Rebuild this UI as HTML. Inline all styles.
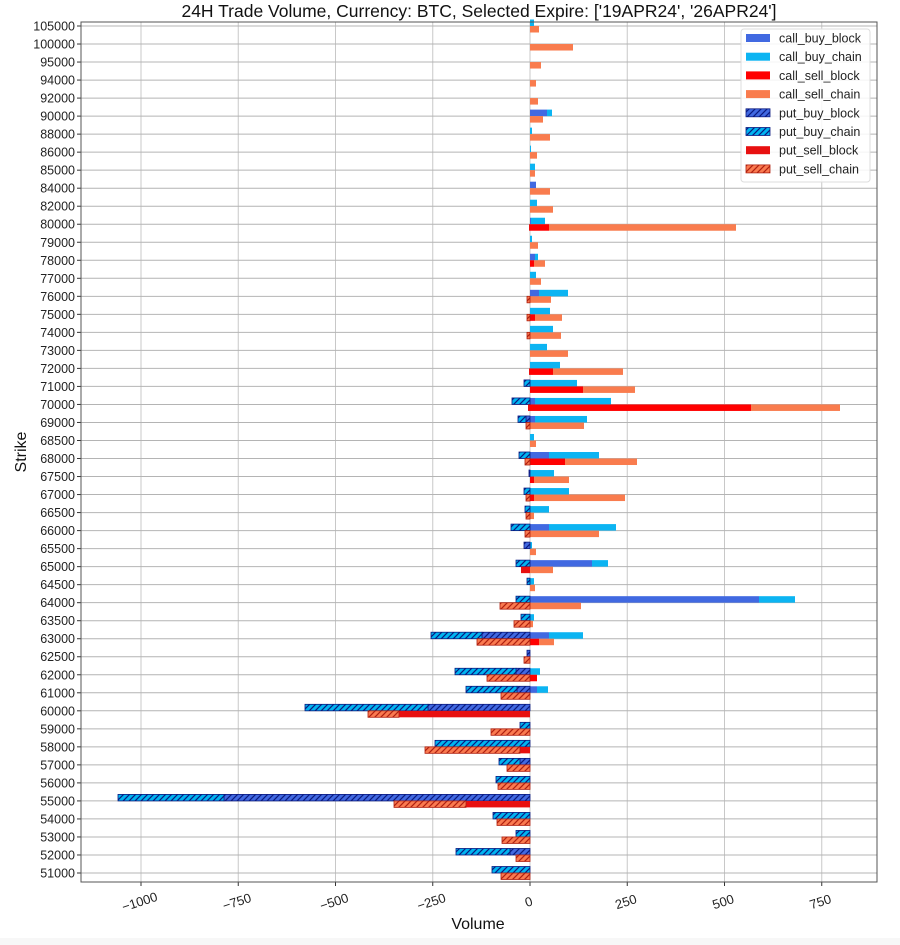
<!DOCTYPE html>
<html><head><meta charset="utf-8"><style>
html,body{margin:0;padding:0;background:#fff;}
svg{display:block;font-family:"Liberation Sans","DejaVu Sans",sans-serif;}
</style></head><body>
<svg id="s" width="900" height="945" xmlns="http://www.w3.org/2000/svg">
<defs>
<pattern id="hb" patternUnits="userSpaceOnUse" width="6" height="6"><rect width="6" height="6" fill="#4169e1"/><path d="M-1,7 L7,-1 M-4,4 L4,-4 M2,10 L10,2" stroke="#0a1a80" stroke-width="1.2"/></pattern>
<pattern id="hc" patternUnits="userSpaceOnUse" width="6" height="6"><rect width="6" height="6" fill="#00b4f0"/><path d="M-1,7 L7,-1 M-4,4 L4,-4 M2,10 L10,2" stroke="#0a1a80" stroke-width="1.2"/></pattern>
<pattern id="hs" patternUnits="userSpaceOnUse" width="6" height="6"><rect width="6" height="6" fill="#fa7a50"/><path d="M-1,7 L7,-1 M-4,4 L4,-4 M2,10 L10,2" stroke="#b02010" stroke-width="1.2"/></pattern>
</defs>
<rect x="0" y="938" width="900" height="7" fill="#f7f7f7"/>
<g id="g"></g>
</svg>
<script>
const s=document.getElementById('g');
let h='';
const L=81,R=877,T=22,B=882,Z=530,K=0.389;
h+=`<text x="479" y="17" font-size="17.5" text-anchor="middle" fill="#111">24H Trade Volume, Currency: BTC, Selected Expire: ['19APR24', '26APR24']</text>`;
[-1000,-750,-500,-250,0,250,500,750].forEach(v=>{const x=Z+v*K;
h+=`<line x1="${x}" y1="${T}" x2="${x}" y2="${B}" stroke="#c8c8c8" stroke-width="1"/>`;
h+=`<line x1="${x}" y1="${B}" x2="${x}" y2="${B+4}" stroke="#333"/>`;
h+=`<text transform="translate(${x},${B+24}) rotate(-18)" font-size="13" text-anchor="middle" fill="#222">${v<0?'\u2212'+(-v):v}</text>`;});
const D=[
[105000,530,534,530,539,530,530,530,530],
[100000,530,530,530,573,530,530,530,530],
[95000,530,530,530,541,530,530,530,530],
[94000,530,530,530,536,530,530,530,530],
[92000,530,530,530,538,530,530,530,530],
[90000,547,552,530,543,530,530,530,530],
[88000,530,532,530,550,530,530,530,530],
[86000,530,531,530,537,530,530,530,530],
[85000,530,535,530,535,530,530,530,530],
[84000,536,536,530,550,530,530,530,530],
[82000,530,537,530,553,530,530,530,530],
[80000,531,545,549,736,530,530,529,529],
[79000,530,532,530,538,530,530,530,530],
[78000,535,538,534,545,530,530,530,530],
[77000,530,536,530,541,530,530,530,530],
[76000,539,568,530,551,530,530,530,527],
[75000,530,550,535,562,530,530,530,527],
[74000,530,553,530,561,530,530,530,527],
[73000,530,547,530,568,530,530,530,530],
[72000,530,560,553,623,530,530,529,529],
[71000,530,577,583,635,530,524,530,530],
[70000,535,611,751,840,530,512,528,528],
[69000,535,587,530,584,526,518,530,526],
[68500,530,534,530,536,530,530,530,530],
[68000,549,599,565,637,530,519,530,525],
[67500,530,554,534,569,529,529,530,530],
[67000,530,569,534,625,530,524,530,526],
[66500,530,549,530,534,530,525,530,526],
[66000,549,616,530,599,530,511,530,525],
[65500,530,532,530,536,524,524,530,530],
[65000,592,608,530,553,530,516,521,521],
[64500,530,534,530,535,530,527,530,530],
[64000,759,795,530,581,530,516,530,500],
[63500,530,534,530,533,530,521,530,514],
[63000,549,583,539,554,482,431,530,477],
[62500,530,530,530,530,527,527,530,524],
[62000,530,540,537,537,516,455,530,487],
[61000,537,548,530,530,517,466,530,501],
[60000,530,530,530,530,428,305,399,368],
[59000,530,530,530,530,530,520,530,491],
[58000,530,530,530,530,530,435,520,425],
[57000,530,530,530,530,520,499,530,507],
[56000,530,530,530,530,530,496,530,498],
[55000,530,530,530,530,224,118,466,394],
[54000,530,530,530,530,530,493,530,497],
[53000,530,530,530,530,530,516,530,502],
[52000,530,530,530,530,510,456,530,516],
[51000,530,530,530,530,530,492,530,501]];
const sp=(873-26)/47;
let bars='';
function r(a,b,y,f,st){if(Math.abs(a-b)<0.5)return;const x=Math.min(a,b),w=Math.abs(a-b);bars+=`<rect x="${x}" y="${y}" width="${w}" height="6.5" fill="${f}"${st?` stroke="${st}" stroke-width="0.8"`:''}/>`;}
D.forEach((d,i)=>{const y=26+i*sp;
h+=`<line x1="${L}" y1="${y}" x2="${R}" y2="${y}" stroke="#b4b4b4" stroke-width="1"/>`;
h+=`<line x1="${L-4}" y1="${y}" x2="${L}" y2="${y}" stroke="#333"/>`;
h+=`<text x="${L-6}" y="${y+4.5}" font-size="12.5" text-anchor="end" fill="#222">${d[0]}</text>`;
r(Z,d[1],y-6.5,'#4169e1');r(d[1],d[2],y-6.5,'#0cb4f2');
r(Z,d[3],y,'#ff0000');r(d[3],d[4],y,'#f97c4e');
r(Z,d[5],y-6.5,'url(#hb)','#0a1a80');r(d[5],d[6],y-6.5,'url(#hc)','#0a1a80');
r(Z,d[7],y,'#e81010');r(d[7],d[8],y,'url(#hs)','#b02010');
});
h+=bars;
h+=`<rect x="${L}" y="${T}" width="${R-L}" height="${B-T}" fill="none" stroke="#555" stroke-width="1"/>`;
h+=`<text transform="translate(26,452) rotate(-90)" font-size="16" text-anchor="middle" fill="#111">Strike</text>`;
h+=`<text x="478" y="929" font-size="16" text-anchor="middle" fill="#111">Volume</text>`;
h+=`<rect x="741" y="29" width="129" height="153" rx="3" fill="#fff" fill-opacity="0.85" stroke="#ddd"/>`;
const lg=[['call_buy_block','#4169e1',''],['call_buy_chain','#0cb4f2',''],['call_sell_block','#ff0000',''],['call_sell_chain','#f97c4e',''],['put_buy_block','url(#hb)','#0a1a80'],['put_buy_chain','url(#hc)','#0a1a80'],['put_sell_block','#e81010',''],['put_sell_chain','url(#hs)','#b02010']];
lg.forEach((l,i)=>{const y=38+i*18.7;
h+=`<rect x="746" y="${y-4}" width="24" height="8" fill="${l[1]}"${l[2]?` stroke="${l[2]}" stroke-width="0.8"`:''}/>`;
h+=`<text x="779" y="${y+4.5}" font-size="12.5" fill="#222">${l[0]}</text>`;});
s.innerHTML=h;
</script>
</body></html>
